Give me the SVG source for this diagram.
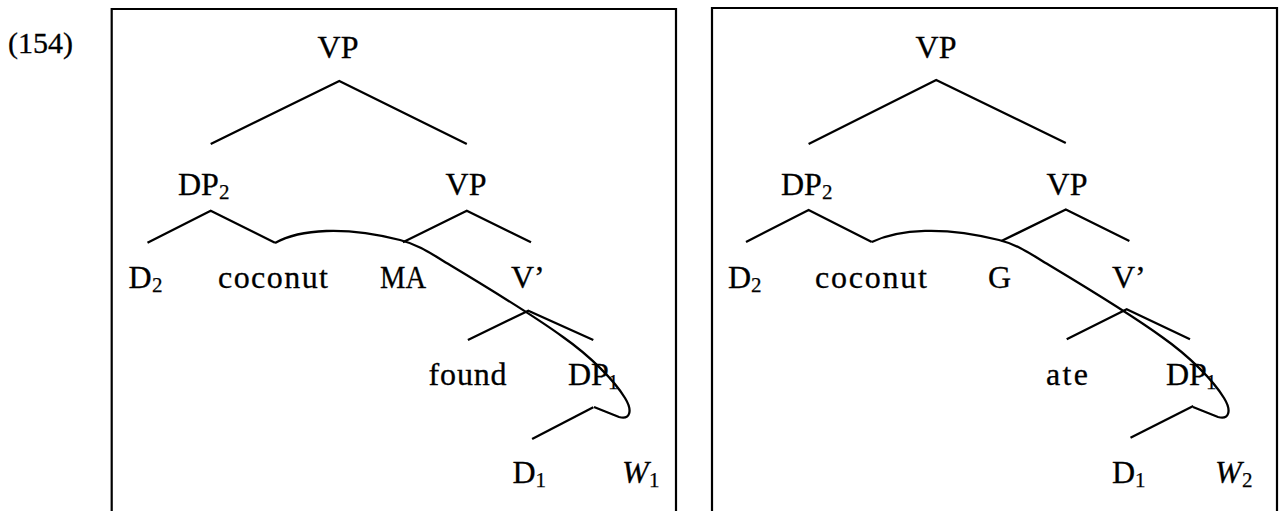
<svg xmlns="http://www.w3.org/2000/svg" width="1284" height="511" viewBox="0 0 1284 511">
<style>
.t{font-family:"Liberation Serif","Times New Roman",serif;font-size:32px;fill:#000;stroke:#000;stroke-width:0.3}
.s{font-family:"Liberation Serif","Times New Roman",serif;font-size:21px;fill:#000;stroke:#000;stroke-width:0.25}
.i{font-style:italic}
.ln{fill:none;stroke:#000;stroke-width:2.3;stroke-linejoin:miter}
.bx{fill:none;stroke:#000;stroke-width:2.2}
</style>
<rect width="1284" height="511" fill="#fff"/>
<g id="label"><text class="t" x="8" y="53" style="font-size:30px">(154)</text></g>
<g id="box-left"><path class="bx" d="M111.7,520 V9 H676 V520"/></g>
<g id="box-right"><path class="bx" d="M712,520 V8 H1277 V520"/></g>

<g id="connectors">
  <path class="ln" d="M210.7,144 L339.3,81 L466.8,144"/>
  <path class="ln" d="M147.5,242.7 L210.7,210.7 L275,242.7"/>
  <path class="ln" d="M402.9,242.3 L466.8,210.7 L531,242.3"/>
  <path class="ln" d="M467.9,340 L528.3,310.7 L593.3,340"/>
  <path class="ln" d="M532.1,439 L593.3,407.3"/>
  <path class="ln" d="M275,243 C300,229 345,226 400,240 C420,245 433,255 450,265 C490,289 530,313 563,337 C590,356 614,380 625,398 C633,411 630,420 619,417 L594,407"/>

  <path class="ln" d="M808.6,144 L936.2,80 L1065.8,143"/>
  <path class="ln" d="M746,242 L808.6,210 L871.8,242"/>
  <path class="ln" d="M1001.4,241 L1065.8,209.5 L1129.4,241"/>
  <path class="ln" d="M1066.7,339.3 L1126.7,309.3 L1190,339.3"/>
  <path class="ln" d="M1130.5,437.7 L1193.3,406"/>
  <path class="ln" d="M871.8,242 C899,229 944,226 999,240 C1019,245 1032,255 1049,265 C1089,289 1129,313 1162,337 C1189,356 1213,380 1224,398 C1232,411 1229,420 1218,417 L1193,407"/>
</g>

<g id="L-VP"><text class="t" x="338" y="58" text-anchor="middle">VP</text></g>
<g id="L-DP2"><text class="t" x="178" y="195">DP</text><text class="s" x="219" y="199">2</text></g>
<g id="L-VP2"><text class="t" x="466" y="195" text-anchor="middle">VP</text></g>
<g id="L-D2"><text class="t" x="128.6" y="288">D</text><text class="s" x="152" y="292">2</text></g>
<g id="L-coconut"><text class="t" x="218" y="288" textLength="110" lengthAdjust="spacing">coconut</text></g>
<g id="L-MA"><text class="t" x="380" y="288" textLength="46" lengthAdjust="spacingAndGlyphs">MA</text></g>
<g id="L-Vbar"><text class="t" x="511" y="288">V’</text></g>
<g id="L-found"><text class="t" x="428.6" y="385" textLength="78" lengthAdjust="spacing">found</text></g>
<g id="L-DP1"><text class="t" x="568" y="385">DP</text><text class="s" x="608" y="389">1</text></g>
<g id="L-D1"><text class="t" x="512.5" y="483">D</text><text class="s" x="535.6" y="487">1</text></g>
<g id="L-W1"><text class="t i" x="622" y="483">W</text><text class="s" x="649" y="487">1</text></g>

<g id="R-VP"><text class="t" x="936" y="58" text-anchor="middle">VP</text></g>
<g id="R-DP2"><text class="t" x="781" y="195">DP</text><text class="s" x="822" y="199">2</text></g>
<g id="R-VP2"><text class="t" x="1067" y="195" text-anchor="middle">VP</text></g>
<g id="R-D2"><text class="t" x="728" y="288">D</text><text class="s" x="751.1" y="292">2</text></g>
<g id="R-coconut"><text class="t" x="815" y="288" textLength="112" lengthAdjust="spacing">coconut</text></g>
<g id="R-G"><text class="t" x="988" y="288">G</text></g>
<g id="R-Vbar"><text class="t" x="1112" y="288">V’</text></g>
<g id="R-ate"><text class="t" x="1046" y="385" textLength="42" lengthAdjust="spacing">ate</text></g>
<g id="R-DP1"><text class="t" x="1166" y="385">DP</text><text class="s" x="1206" y="389">1</text></g>
<g id="R-D1"><text class="t" x="1112" y="483">D</text><text class="s" x="1135.1" y="487">1</text></g>
<g id="R-W2"><text class="t i" x="1215" y="483">W</text><text class="s" x="1242" y="487">2</text></g>
</svg>
